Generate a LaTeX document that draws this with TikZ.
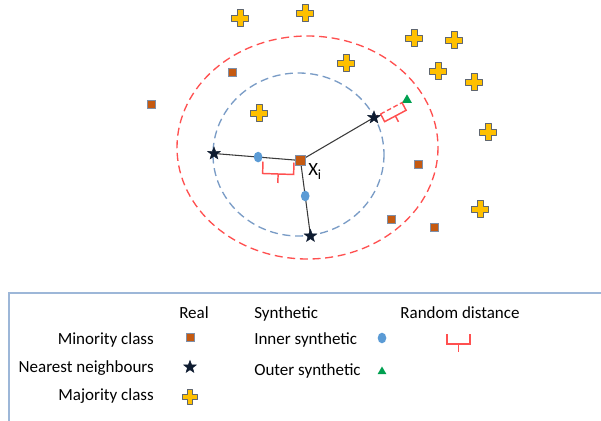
\documentclass[tikz,border=0pt]{standalone}
\usepackage{fontspec}
\setmainfont{Carlito}
\usetikzlibrary{shapes.geometric,calc,backgrounds}
\definecolor{minor}{HTML}{C55A11}
\definecolor{sqedge}{HTML}{7F8FA8}
\definecolor{majfill}{HTML}{FFC000}
\definecolor{majedge}{HTML}{5F6670}
\definecolor{inner}{HTML}{5B9BD5}
\definecolor{outer}{HTML}{00A050}
\definecolor{starc}{HTML}{0E1B30}
\definecolor{bluec}{HTML}{7A9CC6}
\definecolor{redc}{HTML}{FF5050}
\definecolor{boxc}{HTML}{9DB7D8}
\definecolor{linec}{HTML}{3A3A3A}
\tikzset{
  minsq/.style={rectangle, fill=minor, draw=sqedge, line width=0.6pt, minimum size=6pt, inner sep=0pt},
  nstar/.style={star, star points=5, star point ratio=2.4, fill=starc, draw=starc, line width=0.3pt, minimum size=10pt, inner sep=0pt},
  insyn/.style={ellipse, fill=inner, minimum width=6.5pt, minimum height=8pt, inner sep=0pt},
  outsyn/.style={regular polygon, regular polygon sides=3, fill=outer, minimum size=8.5pt, inner sep=0pt},
  conn/.style={linec, line width=0.8pt},
  rbr/.style={redc, line width=1.1pt},
  ring/.style={line width=1pt, dash pattern=on 6pt off 3.5pt},
  lbl/.style={font=\fontsize{12.75}{15}\selectfont, inner sep=0pt},
  majplus/.pic={\path[fill=majfill, draw=majedge, line width=0.7pt, line join=round]
     (-3,-8.5) -- (3,-8.5) -- (3,-3) -- (8.5,-3) -- (8.5,3) -- (3,3) -- (3,8.5)
     -- (-3,8.5) -- (-3,3) -- (-8.5,3) -- (-8.5,-3) -- (-3,-3) -- cycle;}
}
% red "random distance" bracket: #1,#2 ends, #3 depth, #4 tick
\newcommand\rdbracket[4]{%
  \coordinate (bm) at ($(#1)!0.5!(#2)$);
  \draw[rbr] (#1) -- ($(#1)!#3!-90:(#2)$) -- ($(#2)!#3!90:(#1)$) -- (#2);
  \draw[rbr] ($(bm)!#3!-90:(#2)$) -- ($(bm)!#3+#4!-90:(#2)$);
}
\begin{document}
\begin{tikzpicture}[x=0.75pt, y=-0.75pt]
\useasboundingbox (0,0) rectangle (601,421);

% rings
\draw[ring, redc] (307.5,147.5) ellipse [x radius=130.5, y radius=111.5];
\draw[ring, bluec] (298.5,154.5) ellipse [x radius=85.5, y radius=81.5];

% majority class
\pic (m1) at (240,18) {majplus};
\pic (m2) at (305,13) {majplus};
\pic (m3) at (414,38) {majplus};
\pic (m4) at (454,40) {majplus};
\pic (m5) at (346,63) {majplus};
\pic (m6) at (438,71) {majplus};
\pic (m7) at (259,113) {majplus};
\pic (m8) at (474,82) {majplus};
\pic (m9) at (488,132) {majplus};
\pic (m10) at (480,209) {majplus};

% minority class
\node[minsq] (q1) at (232,72) {};
\node[minsq] (q2) at (151,104) {};
\node[minsq] (q3) at (418,164) {};
\node[minsq] (q4) at (391,219) {};
\node[minsq] (q5) at (434,227) {};

% centre sample and neighbours
\node[minsq, minimum size=8pt] (xi) at (300.5,160.5) {};
\node[nstar] (s1) at (214,153.5) {};
\node[nstar] (s2) at (374,117.5) {};
\node[nstar] (s3) at (310.5,236) {};
\node[insyn] (c1) at ($(xi)!0.49!(s1)$) {};
\node[insyn] (c2) at ($(xi)!0.47!(s3)$) {};
\node[outsyn] (tri) at (407,100) {};
\node[inner sep=0pt, anchor=west] (xil) at (308,172)
  {\fontsize{14}{16}\selectfont X\raisebox{-3pt}{\fontsize{10.5}{12}\selectfont i}};

\begin{scope}[on background layer]
  \draw[conn] (xi.center) -- (s1.center);
  \draw[conn] (xi.center) -- (s2.center);
  \draw[conn] (xi.center) -- (s3.center);
  \draw[redc, line width=1pt, dash pattern=on 3.5pt off 2pt] (s2.center) -- (tri.center);
\end{scope}

% random distance brackets
\coordinate (ba) at (263,161.5);
\coordinate (bb) at (294,162.5);
\rdbracket{ba}{bb}{9pt}{6.75pt}
\coordinate (bc) at ($(s2)!0.2!(tri)$);
\coordinate (bd) at ($(s2)!0.85!(tri)$);
\rdbracket{bc}{bd}{6.5pt}{5pt}

% legend frame
\draw[boxc, line width=1.3pt] (9,425) -- (9,293) -- (606,293);

% legend headers
\node[lbl, anchor=base] (hreal) at (194,318.3) {Real};
\node[lbl, anchor=base west] (hsyn) at (254,318.3) {Synthetic};
\node[lbl, anchor=base] (hrand) at (460,318.3) {Random distance};

% legend rows
\node[lbl, anchor=base east] (lmin) at (154,344) {Minority class};
\node[lbl, anchor=base east] (lnn) at (154,372) {Nearest neighbours};
\node[lbl, anchor=base east] (lmaj) at (154,400) {Majority class};
\node[lbl, anchor=base west] (lin) at (254,344) {Inner synthetic};
\node[lbl, anchor=base west] (lout) at (254,375.5) {Outer synthetic};

\node[minsq] (kmin) at (190,337) {};
\node[nstar] (knn) at (190,367) {};
\pic[scale=0.85] (kmaj) at (190,397) {majplus};
\node[insyn] (kin) at (382,338) {};
\node[outsyn, minimum size=7.5pt] (kout) at (382,371.5) {};
\coordinate (ka) at (447,334);
\coordinate (kb) at (470,334);
\rdbracket{ka}{kb}{7.5pt}{6pt}
\end{tikzpicture}
\end{document}
